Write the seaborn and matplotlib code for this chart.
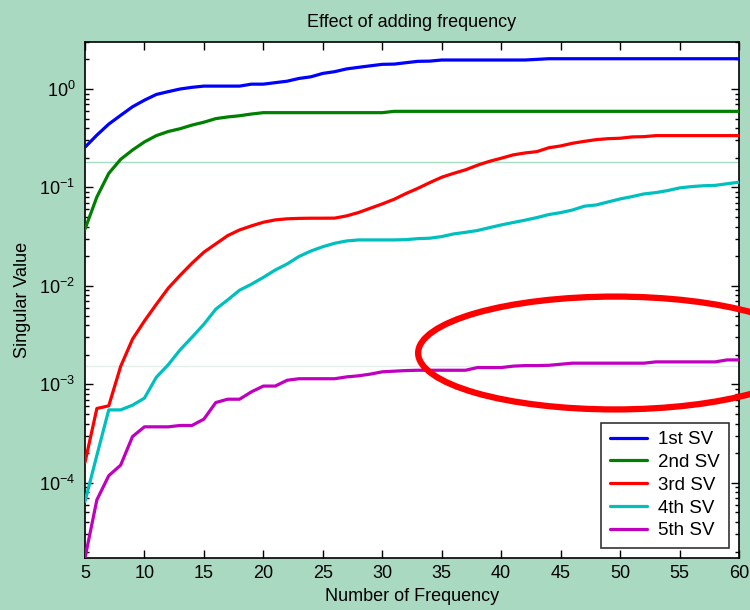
import matplotlib
matplotlib.use('Agg')
import matplotlib.pyplot as plt
from matplotlib.patches import Ellipse
from matplotlib.ticker import LogLocator, NullFormatter
import numpy as np
import pandas as pd
import seaborn as sns

freq = list(range(5, 61))

sv1 = [0.256, 0.34, 0.44, 0.54, 0.66, 0.77, 0.88, 0.94, 1.0, 1.04,
       1.07, 1.07, 1.07, 1.07, 1.12, 1.12, 1.16, 1.2, 1.28, 1.33,
       1.44, 1.5, 1.6, 1.66, 1.72, 1.78, 1.79, 1.85, 1.91, 1.92,
       1.97] + [1.97] * 7 + [2.0] + [2.03] * 17

sv2 = [0.0377, 0.08, 0.139, 0.193, 0.24, 0.29, 0.336, 0.37, 0.395, 0.43,
       0.46, 0.50, 0.52, 0.535, 0.557] + [0.575] * 11 + [0.593] * 30

sv3 = [1.61e-4, 5.68e-4, 6.05e-4, 1.52e-3, 2.88e-3, 4.4e-3, 6.5e-3, 9.47e-3,
       0.0128, 0.017, 0.022, 0.0267, 0.0324, 0.037, 0.0407, 0.0443, 0.0468,
       0.048, 0.0485, 0.0487, 0.0487, 0.0488, 0.0514, 0.0556, 0.0615, 0.068,
       0.0758, 0.0868, 0.098, 0.112, 0.127, 0.139, 0.151, 0.168, 0.184, 0.198,
       0.214, 0.224, 0.231, 0.253, 0.264, 0.281, 0.294, 0.306, 0.313, 0.316,
       0.326, 0.328] + [0.336] * 8

sv4 = [6.45e-5, 1.9e-4, 5.5e-4, 5.5e-4, 6.14e-4, 7.24e-4, 1.18e-3, 1.58e-3,
       2.24e-3, 3.01e-3, 4.08e-3, 5.8e-3, 7.2e-3, 9.04e-3, 0.0104, 0.0122,
       0.0145, 0.0167, 0.0199, 0.0226, 0.025, 0.0271, 0.0286, 0.0293, 0.0293,
       0.0293, 0.0293, 0.0295, 0.0302, 0.0305, 0.0317, 0.0337, 0.035, 0.0365,
       0.039, 0.0416, 0.044, 0.0465, 0.0494, 0.053, 0.0555, 0.059, 0.0645,
       0.0664, 0.0713, 0.0764, 0.0807, 0.0859, 0.0886, 0.0929, 0.0989, 0.102,
       0.104, 0.105, 0.109, 0.113]

sv5 = [1.72e-5, 6.7e-5, 1.18e-4, 1.51e-4, 2.95e-4, 3.7e-4, 3.7e-4, 3.7e-4,
       3.82e-4, 3.82e-4, 4.43e-4, 6.53e-4, 7.06e-4, 7.06e-4, 8.39e-4, 9.6e-4,
       9.6e-4, 1.1e-3, 1.14e-3, 1.14e-3, 1.14e-3, 1.14e-3, 1.19e-3, 1.22e-3,
       1.27e-3, 1.34e-3, 1.36e-3, 1.38e-3] + [1.39e-3] * 5 + \
      [1.48e-3, 1.48e-3, 1.48e-3, 1.53e-3, 1.55e-3, 1.55e-3, 1.56e-3, 1.6e-3] + \
      [1.64e-3] * 7 + [1.69e-3] * 6 + [1.77e-3, 1.77e-3]

labels = ['1st SV', '2nd SV', '3rd SV', '4th SV', '5th SV']
colors = ['#0000ff', '#008000', '#ff0000', '#00bfbf', '#bf00bf']

# faint horizontal lines across the plot (slide artefacts)
hlines = [0.18, 1.52e-3]
hline_colors = ['#a6dcc2', '#e4efeb']

sns.set_style('ticks')
plt.rcParams['font.family'] = ['Liberation Sans', 'DejaVu Sans']
plt.rcParams['mathtext.default'] = 'regular'
plt.rcParams['axes.unicode_minus'] = False
plt.rcParams['text.color'] = 'black'
plt.rcParams['axes.labelcolor'] = 'black'

df = pd.DataFrame({'freq': freq, labels[0]: sv1, labels[1]: sv2,
                   labels[2]: sv3, labels[3]: sv4, labels[4]: sv5})
long = df.melt(id_vars='freq', var_name='series', value_name='sv')

fig = plt.figure(figsize=(7.5, 6.1), dpi=100, facecolor='#aad9c2')
ax = fig.add_axes([0.1133, 0.0852, 0.872, 0.8459])
ax.set_facecolor('white')

for val, c in zip(hlines, hline_colors):
    ax.axhline(val, color=c, lw=1.0, zorder=1)

sns.lineplot(data=long, x='freq', y='sv', hue='series', hue_order=labels,
             palette=colors, lw=2.3, ax=ax, zorder=3)

ax.set_yscale('log')
ax.set_xlim(5, 60)
ax.set_ylim(1.72e-5, 3.0)
ax.set_xticks(range(5, 61, 5))
ax.yaxis.set_major_locator(LogLocator(base=10, numticks=10))
ax.yaxis.set_minor_locator(LogLocator(base=10, subs=np.arange(2, 10), numticks=20))
ax.yaxis.set_minor_formatter(NullFormatter())

ax.tick_params(which='both', direction='in', top=True, right=True,
               labelsize=13, colors='black', width=1.0)
ax.tick_params(which='major', length=6)
ax.tick_params(which='minor', length=3)
ax.tick_params(axis='x', pad=5)
ax.tick_params(axis='y', pad=7)
for s in ax.spines.values():
    s.set_color('black')
    s.set_linewidth(1.2)

ax.set_title('Effect of adding frequency', fontsize=13, pad=11, color='black')
ax.set_xlabel('Number of Frequency', fontsize=13, labelpad=4)
ax.set_ylabel('Singular Value', fontsize=13, labelpad=6)

leg = ax.legend(loc='lower right', fontsize=13.5, frameon=True, fancybox=False,
                edgecolor='black', handlelength=2.0, handletextpad=0.6,
                borderaxespad=0.55, labelspacing=0.3, borderpad=0.45)
leg.get_frame().set_linewidth(1.2)
leg.set_title(None)
for t in leg.get_texts():
    t.set_color('black')
for h in leg.get_lines():
    h.set_linewidth(2.3)

# hand-drawn red ellipse highlighting the 5th SV
fig.add_artist(Ellipse((0.82, 0.4213), 0.525, 0.185, transform=fig.transFigure,
                       fill=False, edgecolor='#ff0000', lw=4.5, zorder=10))

fig.savefig('out.png', dpi=100, facecolor=fig.get_facecolor())
plt.close()
